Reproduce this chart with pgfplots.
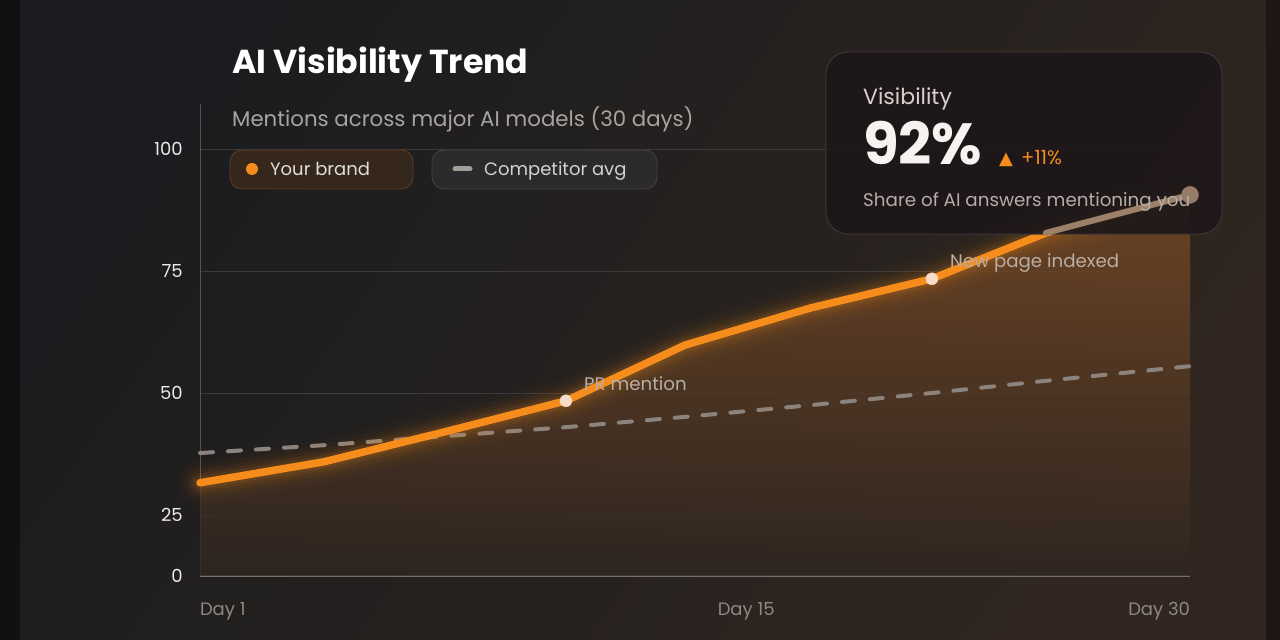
\documentclass[border=0pt]{standalone}
\usepackage{fontspec}
\setmainfont{Poppins}
\newfontfamily\symfont{DejaVu Sans}
\usepackage{pgfplots}
\usepackage{pgfplotstable}
\pgfplotsset{compat=1.18}

\definecolor{bgL}{HTML}{1B1C1F}
\definecolor{bgR}{HTML}{30261F}
\definecolor{bgDark}{HTML}{111113}
\definecolor{bgRight}{HTML}{1D1614}
\definecolor{brand}{HTML}{F58C1C}
\definecolor{compc}{HTML}{8C837D}
\definecolor{gridc}{HTML}{3C3A3B}
\definecolor{axy}{HTML}{57534F}
\definecolor{axx}{HTML}{807874}
\definecolor{tickc}{HTML}{ECE9E6}
\definecolor{daytxt}{HTML}{8E8884}
\definecolor{subc}{HTML}{A7A3A1}
\definecolor{annc}{HTML}{B8AEA6}
\definecolor{markc}{HTML}{F6DCC9}
\definecolor{cardc}{HTML}{1E1719}
\definecolor{cardb}{HTML}{3E3636}
\definecolor{tanc}{HTML}{9C8068}
\definecolor{enddot}{HTML}{957B68}
\definecolor{fillTop}{HTML}{7A4B25}
\definecolor{fillBot}{HTML}{2F2621}
\definecolor{pillAf}{HTML}{35271C}
\definecolor{pillAd}{HTML}{5A3E27}
\definecolor{pillBf}{HTML}{2B2A2C}
\definecolor{pillBd}{HTML}{424040}
\definecolor{pillAt}{HTML}{E2DDD9}
\definecolor{pillBt}{HTML}{D6D2CF}
\definecolor{dashic}{HTML}{A29E9A}
\definecolor{visc}{HTML}{D8D0CC}
\definecolor{bigc}{HTML}{F8F3F0}
\definecolor{sharec}{HTML}{B4ACA7}

\pgfplotstableread{
x y
1 31.6
4.63 35.9
8.26 42.2
11.72 48.4
15.2 59.8
18.87 67.4
22.44 73.4
25.78 82.8
30 90.6
}\brand

\pgfplotstableread{
x y
1 37.7
4.63 39.3
8.26 41.2
11.72 43.0
15.2 45.1
18.87 47.5
22.44 50.0
25.78 52.5
30 55.5
}\comp

\begin{document}
\begin{tikzpicture}
% background
\fill[color=bgDark] (0pt,0pt) rectangle (1280pt,640pt);
\shade[top color=bgL, bottom color=bgR, shading angle=55] (20pt,0pt) rectangle (1266pt,640pt);
\fill[color=bgRight] (1266pt,0pt) rectangle (1280pt,640pt);

\begin{axis}[
  at={(200pt,64pt)}, anchor=south west,
  width=990pt, height=472pt, scale only axis,
  xmin=1, xmax=30, ymin=12.5, ymax=109.22,
  axis lines=left, axis line style={-},
  x axis line style={draw=axx, line width=1.6pt},
  y axis line style={draw=axy, line width=1pt},
  xtick={1,17,30},
  xticklabels={\makebox[0pt][l]{Day 1},Day 15,\makebox[0pt][r]{Day 30}},
  ytick={12.5,25,50,75,100}, yticklabels={0,25,50,75,100},
  major tick length=0pt,
  ymajorgrids, grid style={draw=gridc, line width=0.8pt},
  xticklabel style={font=\fontsize{18}{20}\selectfont, text=daytxt, anchor=north, inner sep=0pt, yshift=-26pt},
  yticklabel style={font=\fontsize{18}{20}\selectfont, text=tickc, anchor=east, inner sep=0pt, xshift=-17pt},
  /pgf/number format/assume math mode=true,
  clip=false,
]
% area under brand line
\addplot[draw=none, fill opacity=0.8, top color=fillTop, bottom color=fillBot] table[x=x,y=y] {\brand} \closedcycle;
% competitor
\addplot[color=compc, line width=4pt, line cap=round, dash pattern=on 13pt off 15pt] table[x=x,y=y] {\comp};
% glow
\addplot[color=brand, line width=44pt, opacity=0.025, line join=round, line cap=round] table[x=x,y=y] {\brand};
\addplot[color=brand, line width=34pt, opacity=0.035, line join=round, line cap=round] table[x=x,y=y] {\brand};
\addplot[color=brand, line width=26pt, opacity=0.05, line join=round, line cap=round] table[x=x,y=y] {\brand};
\addplot[color=brand, line width=19pt, opacity=0.07, line join=round, line cap=round] table[x=x,y=y] {\brand};
\addplot[color=brand, line width=13pt, opacity=0.1, line join=round, line cap=round] table[x=x,y=y] {\brand};
% brand line
\addplot[color=brand, line width=7.5pt, line join=round, line cap=round] table[x=x,y=y] {\brand};
% event markers
\addplot[only marks, mark=*, mark size=6pt, color=markc] coordinates {(11.72,48.4) (22.44,73.4)};
% card
\fill[cardc, fill opacity=0.93, rounded corners=22pt] (axis cs:19.337,82.58) rectangle (axis cs:30.938,119.88);
\draw[cardb, line width=1pt, rounded corners=22pt] (axis cs:19.337,82.58) rectangle (axis cs:30.938,119.88);
% last segment seen through the card
\addplot[color=tanc, line width=6pt, line cap=round] coordinates {(25.78,82.8) (30,90.6)};
\addplot[only marks, mark=*, mark size=8.5pt, color=enddot] coordinates {(30,90.6)};
\end{axis}

% title and subtitle
\node[anchor=base west, inner sep=0pt, text=white, font=\fontsize{33.2}{38}\selectfont\bfseries] at (232pt,566pt) {AI Visibility Trend};
\node[anchor=base west, inner sep=0pt, text=subc, font=\fontsize{21.3}{24}\selectfont] at (232pt,513pt) {Mentions across major AI models (30 days)};

% legend pills
\draw[fill=pillAf, draw=pillAd, line width=0.9pt, rounded corners=12pt] (230pt,451pt) rectangle (413pt,490pt);
\fill[brand] (252pt,471pt) circle (6pt);
\node[anchor=base west, inner sep=0pt, text=pillAt, font=\fontsize{18}{20}\selectfont] at (270pt,464.5pt) {Your brand};
\draw[fill=pillBf, draw=pillBd, line width=0.9pt, rounded corners=12pt] (432pt,451pt) rectangle (657pt,490pt);
\draw[color=dashic, line width=5pt, line cap=round] (455pt,471pt) -- (470pt,471pt);
\node[anchor=base west, inner sep=0pt, text=pillBt, font=\fontsize{18}{20}\selectfont] at (484pt,464.5pt) {Competitor avg};

% annotations
\node[anchor=base west, inner sep=0pt, text=annc, font=\fontsize{18.2}{20}\selectfont] at (584pt,249pt) {PR mention};
\node[anchor=base west, inner sep=0pt, text=annc, font=\fontsize{18.2}{20}\selectfont] at (950pt,372pt) {New page indexed};

% card text
\node[anchor=base west, inner sep=0pt, text=visc, font=\fontsize{22}{24}\selectfont] at (863pt,535pt) {Visibility};
\node[anchor=base west, inner sep=0pt, text=bigc, font=\fontsize{58}{62}\selectfont\bfseries] at (863pt,475pt) {92\%};
\node[anchor=base west, inner sep=0pt, text=brand, font=\fontsize{18}{20}\selectfont\symfont] at (999pt,475pt) {▲};
\node[anchor=base west, inner sep=0pt, text=brand, font=\fontsize{19.5}{22}\selectfont] at (1021pt,475pt) {+11\%};
\node[anchor=base west, inner sep=0pt, text=sharec, font=\fontsize{18.3}{20}\selectfont] at (863pt,433pt) {Share of AI answers mentioning you};

\pgfresetboundingbox
\path[use as bounding box] (0pt,0pt) rectangle (1280pt,640pt);
\end{tikzpicture}
\end{document}
